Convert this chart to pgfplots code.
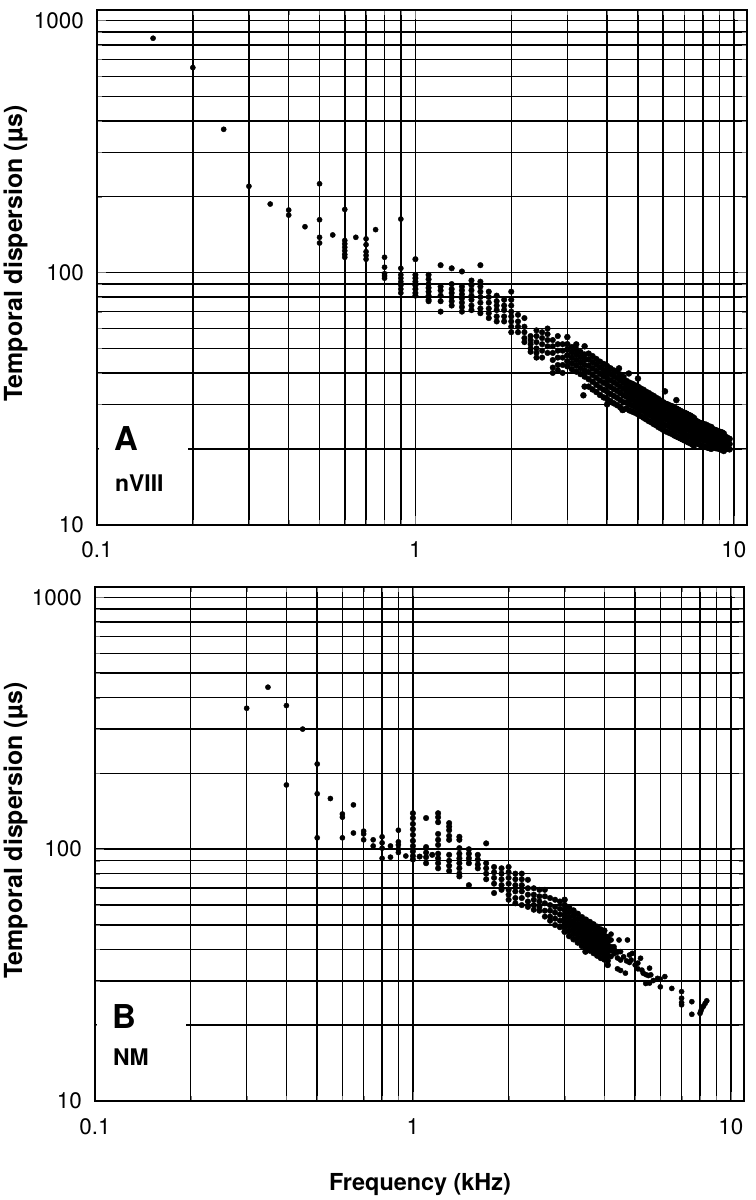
\documentclass[border=0pt]{standalone}
\usepackage{pgfplots}
\pgfplotsset{compat=1.18}
\usepackage{fontspec}
\setmainfont{TeX Gyre Heros}
\begin{document}
\begin{tikzpicture}
\useasboundingbox (0,0) rectangle (756bp,-1200bp);
% ---------------- Panel A ----------------
\begin{axis}[at={(97bp,-524.7bp)}, anchor=south west, width=650bp, height=514.7bp,
    scale only axis, xmode=log, ymode=log,
    xmin=0.1, xmax=11, ymin=10, ymax=1100,
    xtick={0.1,1,10}, xticklabels={0.1,1,10},
    ytick={10,100,1000}, yticklabels={10,100,1000},
    grid=both,
    major grid style={black, line width=1.5bp},
    minor grid style={black, line width=1.5bp},
    tick align=inside,
    major tick length=9bp, minor tick length=5bp,
    axis line style={black, line width=2bp},
    xticklabel style={font=\fontsize{22.5}{25}\selectfont, inner sep=0pt, yshift=-17bp},
    yticklabel style={font=\fontsize{22.5}{25}\selectfont, inner sep=0pt, xshift=-13bp}]
\fill[white] (axis cs:0.1011,10.12) rectangle (axis cs:0.193,26);
\addplot[only marks, mark=*, mark size=2.6bp, black] coordinates {
(0.15,850)(0.2,650)(0.25,370)(0.3,220)(0.35,187)(0.4,177)(0.4,169)(0.45,152)
(0.5,225)(0.5,162)(0.5,138)(0.5,131)(0.55,141)
(0.6,178)(0.6,134)(0.6,130)(0.6,126)(0.6,122)(0.6,118)(0.6,115)
(0.65,138)
(0.7,136)(0.7,129)(0.7,121)(0.7,117)(0.7,113)
(0.75,148)
(0.8,115)(0.8,105)(0.8,99)(0.8,97)(0.8,95)
(0.9,163)(0.9,104)(0.9,98)(0.9,95)(0.9,92)(0.9,89)(0.9,86)(0.9,83)
};
\addplot[only marks, mark=*, mark size=2.8bp, black] coordinates {
(1.0,113)(1.0,98)(1.0,95)(1.0,92)(1.0,89)(1.0,86)(1.0,83)(1.0,81)
(1.1,98)(1.1,94)(1.1,90)(1.1,87)(1.1,84)(1.1,81)(1.1,78)(1.1,77)
(1.2,107)(1.2,88)(1.2,85)(1.2,81)(1.2,77)(1.2,70)
(1.3,104)(1.3,90)(1.3,86)(1.3,83)(1.3,80)(1.3,77)(1.3,74)
(1.4,101)(1.4,88)(1.4,85)(1.4,82)(1.4,79)(1.4,76)(1.4,73)(1.4,70)
(1.5,93)(1.5,89)(1.5,85)(1.5,81)(1.5,78)(1.5,74)(1.5,71)
(1.6,107)(1.6,92)(1.6,88)(1.6,84)(1.6,80)(1.6,76)(1.6,72)(1.6,69)
(1.7,84)(1.7,80)(1.7,76)(1.7,72)(1.7,69)(1.7,66)
(1.8,81)(1.8,77)(1.8,74)(1.8,71)(1.8,67)(1.8,64)
(1.9,78)(1.9,74)(1.9,71)(1.9,67)(1.9,64)
(2.0,84)(2.0,78)(2.0,74)(2.0,70)(2.0,67)(2.0,64)(2.0,61)(2.0,58)
(2.1,68)(2.1,64)(2.1,61)(2.1,58)
(2.2,66)(2.2,61)(2.2,58)(2.2,55)(2.2,53)
(2.3,56)(2.3,54)(2.3,52)(2.3,50)(2.3,48.5)
(2.4,59)(2.4,56)(2.4,53)(2.4,50)(2.4,48)(2.4,46)
(2.5,58)(2.5,55)(2.5,52)(2.5,49)(2.5,46)
(2.6,60)(2.6,57)(2.6,54)(2.6,51)(2.6,48)
(2.7,54)(2.7,51)(2.7,48)(2.7,45)(2.7,42)(2.7,40)
(2.8,56)(2.8,52)(2.8,49)(2.8,46)(2.8,43)(2.8,41)
(2.9,52)(2.9,49)(2.9,46)(2.9,43)(2.9,40)
};
\addplot[only marks, mark=*, mark size=3bp, black] coordinates {
(3.0,42.5)(3.0,44.5)(3.0,47)(3.0,49.5)(3.0,52)(3.0,55.5)
(3.1,41.4)(3.1,43.7)(3.1,46)(3.1,48.3)(3.1,50.6)
(3.2,40.5)(3.2,42.8)(3.2,45)(3.2,47.3)(3.2,49.5)(3.2,51.9)
(3.3,39.6)(3.3,41.8)(3.3,44)(3.3,46.2)(3.3,48.4)
(3.4,38.7)(3.4,40.9)(3.4,43)(3.4,45.2)(3.4,47.3)(3.4,51)(3.4,35.3)(3.37,32.6)
(3.5,35.3)(3.5,37.8)(3.5,40.3)(3.5,42.7)(3.5,45.2)(3.5,47.7)
(3.6,34.4)(3.6,36.9)(3.6,39.3)(3.6,41.7)(3.6,44.1)(3.6,46.6)
(3.7,33.6)(3.7,35.9)(3.7,38.3)(3.7,40.7)(3.7,43.1)(3.7,45.4)
(3.8,32.7)(3.8,35.0)(3.8,37.3)(3.8,39.7)(3.8,42.0)(3.8,44.3)
(3.9,32.0)(3.9,34.3)(3.9,36.6)(3.9,38.8)(3.9,41.1)(3.9,43.4)
(4.0,30)(4.0,31.5)(4.0,33.7)(4.0,35.9)(4.0,38.1)(4.0,40.3)(4.0,42.6)
(4.1,30.9)(4.1,33.0)(4.1,35.2)(4.1,37.4)(4.1,39.6)(4.1,41.7)
(4.2,30.3)(4.2,32.4)(4.2,34.5)(4.2,36.7)(4.2,38.8)(4.2,40.9)
(4.3,29.8)(4.3,31.9)(4.3,34.0)(4.3,36.1)(4.3,38.2)(4.3,40.3)
(4.4,29.2)(4.4,31.2)(4.4,33.3)(4.4,35.3)(4.4,37.4)(4.4,39.4)(4.36,41.7)
(4.5,28.6)(4.5,30.6)(4.5,32.6)(4.5,34.6)(4.5,36.6)(4.5,38.6)(4.47,28.5)
(4.6,28.9)(4.6,30.5)(4.6,32.2)(4.6,33.9)(4.6,35.5)(4.6,37.2)
(4.7,28.4)(4.7,30.1)(4.7,31.7)(4.7,33.4)(4.7,35.0)(4.7,36.6)(4.68,39.8)
(4.8,28.1)(4.8,29.7)(4.8,31.3)(4.8,32.9)(4.8,34.6)(4.8,36.2)
(4.9,27.8)(4.9,29.3)(4.9,30.9)(4.9,32.5)(4.9,34.1)(4.9,35.7)
(5.0,27.4)(5.0,29.0)(5.0,30.6)(5.0,32.1)(5.0,33.7)(5.0,35.3)(5.0,38)
(5.1,27.0)(5.1,28.5)(5.1,30.1)(5.1,31.6)(5.1,33.2)(5.1,34.7)
(5.2,26.6)(5.2,28.2)(5.2,29.7)(5.2,31.2)(5.2,32.7)(5.2,34.3)
(5.3,26.2)(5.3,27.7)(5.3,29.2)(5.3,30.7)(5.3,32.2)(5.3,33.7)
(5.4,25.8)(5.4,27.3)(5.4,28.8)(5.4,30.3)(5.4,31.8)(5.4,33.3)
(5.5,25.5)(5.5,27.0)(5.5,28.4)(5.5,29.9)(5.5,31.4)(5.5,32.8)
(5.6,25.1)(5.6,26.6)(5.6,28.0)(5.6,29.5)(5.6,30.9)(5.6,32.4)
(5.7,24.8)(5.7,26.2)(5.7,27.6)(5.7,29.1)(5.7,30.5)(5.7,31.9)
(5.8,24.4)(5.8,25.9)(5.8,27.3)(5.8,28.7)(5.8,30.1)(5.8,31.5)
(5.9,24.1)(5.9,25.5)(5.9,26.9)(5.9,28.3)(5.9,29.6)(5.9,31.0)
(6.0,23.8)(6.0,25.1)(6.0,26.5)(6.0,27.8)(6.0,29.2)(6.0,30.6)
(6.1,23.5)(6.1,24.8)(6.1,26.2)(6.1,27.5)(6.1,28.9)(6.1,30.2)(6.08,33.8)
(6.2,23.3)(6.2,24.7)(6.2,26.0)(6.2,27.3)(6.2,28.7)(6.2,30.0)
(6.3,23.1)(6.3,24.4)(6.3,25.7)(6.3,27.0)(6.3,28.4)(6.3,29.7)
(6.4,22.9)(6.4,24.2)(6.4,25.5)(6.4,26.8)(6.4,28.1)(6.4,29.5)
(6.5,22.6)(6.5,23.9)(6.5,25.2)(6.5,26.5)(6.5,27.8)(6.5,29.1)
(6.6,22.4)(6.6,23.7)(6.6,25.0)(6.6,26.3)(6.6,27.6)(6.6,28.9)(6.6,31.2)
(6.7,22.2)(6.7,23.5)(6.7,24.7)(6.7,26.0)(6.7,27.3)(6.7,28.6)
(6.8,22.0)(6.8,23.3)(6.8,24.5)(6.8,25.8)(6.8,27.1)(6.8,28.3)
(6.9,21.8)(6.9,23.0)(6.9,24.3)(6.9,25.5)(6.9,26.8)(6.9,28.0)
(7.0,21.6)(7.0,22.8)(7.0,24.1)(7.0,25.3)(7.0,26.5)(7.0,27.8)
(7.1,21.4)(7.1,22.6)(7.1,23.9)(7.1,25.1)(7.1,26.3)(7.1,27.6)
(7.2,21.2)(7.2,22.4)(7.2,23.7)(7.2,24.9)(7.2,26.1)(7.2,27.3)
(7.3,21.1)(7.3,22.3)(7.3,23.5)(7.3,24.7)(7.3,25.9)(7.3,27.1)
(7.4,20.8)(7.4,22.0)(7.4,23.2)(7.4,24.4)(7.4,25.6)(7.4,26.8)
(7.5,20.6)(7.5,21.8)(7.5,23.0)(7.5,24.2)(7.5,25.4)(7.5,26.5)
(7.6,21.2)(7.6,22.3)(7.6,23.5)(7.6,24.7)(7.6,25.9)
(7.7,21.0)(7.7,22.1)(7.7,23.3)(7.7,24.5)(7.7,25.6)
(7.8,20.8)(7.8,21.9)(7.8,23.1)(7.8,24.3)(7.8,25.4)
(7.9,20.6)(7.9,21.8)(7.9,22.9)(7.9,24.0)(7.9,25.2)
(8.0,20.5)(8.0,21.7)(8.0,22.8)(8.0,23.9)(8.0,25.1)
(8.1,20.4)(8.1,21.6)(8.1,22.7)(8.1,23.8)(8.1,25.0)
(8.2,20.3)(8.2,21.5)(8.2,22.6)(8.2,23.7)(8.2,24.9)
(8.3,20.2)(8.3,21.3)(8.3,22.4)(8.3,23.5)(8.3,24.6)
(8.4,20.1)(8.4,21.2)(8.4,22.3)(8.4,23.4)(8.4,24.5)
(8.5,20.0)(8.5,21.1)(8.5,22.2)(8.5,23.3)(8.5,24.4)
(8.6,20.3)(8.6,21.2)(8.6,22.1)(8.6,23.0)(8.6,23.9)
(8.7,20.2)(8.7,21.1)(8.7,22.0)(8.7,22.9)(8.7,23.8)
(8.8,20.1)(8.8,21.0)(8.8,21.9)(8.8,22.8)(8.8,23.7)
(8.9,20.1)(8.9,20.9)(8.9,21.8)(8.9,22.7)(8.9,23.5)
(9.0,20.0)(9.0,20.8)(9.0,21.7)(9.0,22.6)(9.0,23.4)
(9.1,19.9)(9.1,20.7)(9.1,21.6)(9.1,22.5)(9.1,23.3)
(9.2,19.8)(9.2,20.6)(9.2,21.5)(9.2,22.4)(9.2,23.2)
(9.3,19.6)(9.3,20.4)(9.3,21.3)(9.3,22.2)(9.3,23.0)
(9.4,20.1)(9.4,21.2)(9.4,22.3)
(9.5,20.0)(9.5,21.1)(9.5,22.2)
(9.6,20.0)(9.6,21.0)(9.6,22.0)
(9.7,19.9)(9.7,20.9)(9.7,21.9)
};
\end{axis}
% ---------------- Panel B ----------------
\begin{axis}[at={(95bp,-1101bp)}, anchor=south west, width=649bp, height=514bp,
    scale only axis, xmode=log, ymode=log,
    xmin=0.1, xmax=11, ymin=10, ymax=1100,
    xtick={0.1,1,10}, xticklabels={0.1,1,10},
    ytick={10,100,1000}, yticklabels={10,100,1000},
    grid=both,
    major grid style={black, line width=1.5bp},
    minor grid style={black, line width=1.5bp},
    tick align=inside,
    major tick length=9bp, minor tick length=5bp,
    axis line style={black, line width=2bp},
    xticklabel style={font=\fontsize{22.5}{25}\selectfont, inner sep=0pt, yshift=-17bp},
    yticklabel style={font=\fontsize{22.5}{25}\selectfont, inner sep=0pt, xshift=-13bp}]
\fill[white] (axis cs:0.1011,10.12) rectangle (axis cs:0.193,26);
\addplot[only marks, mark=*, mark size=2.6bp, black] coordinates {
(0.3,363)(0.35,440)(0.4,372)(0.4,180)(0.45,300)
(0.5,218)(0.5,166)(0.5,111)(0.55,159)
(0.6,138)(0.6,134)(0.6,111)
(0.65,150)(0.65,116)
(0.7,118)(0.7,115)(0.7,109)
(0.75,109)(0.75,103)
(0.8,112)(0.8,106)(0.8,101)(0.8,92)
(0.85,103)(0.85,93)
(0.9,119)(0.9,107)(0.9,104)(0.9,100)(0.9,97)
(0.95,94)
(4.2,37.5)(4.2,39.5)(4.2,41)(4.2,43.6)(4.2,46)
(4.3,38.5)(4.3,40)(4.29,41)
(4.4,37)(4.4,39)(4.4,33.5)
(4.5,36.3)(4.5,39.2)(4.45,43.6)(4.5,33)
(4.6,37.4)(4.66,32.2)
(4.73,43.6)(4.7,36)
(4.8,35.5)(4.8,38)
(4.9,38.6)(4.86,36.3)
(5.0,34.7)(5.1,35.3)(5.1,33.5)
(5.2,36.9)(5.25,33.1)(5.3,32.2)
(5.4,29.3)(5.4,31.8)
(5.55,33.7)(5.55,29.4)(5.5,31.5)
(5.6,31.7)(5.7,30.1)
(5.88,30.7)(6.0,28.4)(6.0,30.5)(6.2,31.2)(6.52,28)
(7.0,27.2)(7.0,25.6)(7.0,24.6)(7.0,24.1)
(7.54,24.8)(7.54,22.1)
(8.0,22.3)(8.05,22.8)(8.1,23.3)(8.2,23.8)(8.3,24.4)(8.4,25.0)
};
\addplot[only marks, mark=*, mark size=2.8bp, black] coordinates {
(1.0,139)(1.0,133)(1.0,126)(1.0,120)(1.0,114)(1.0,108)(1.0,103)(1.0,98)(1.0,94)(1.0,91)
(1.05,93.5)
(1.1,133)(1.1,102)(1.1,97)(1.1,93)(1.1,88)
(1.15,95)
(1.2,139)(1.2,134)(1.2,128)(1.2,115)(1.2,109)(1.2,104)(1.2,96)(1.2,92)(1.2,88)(1.2,84)
(1.3,127)(1.3,123)(1.3,119)(1.3,113)(1.3,109)(1.3,95)(1.3,90)(1.3,86)(1.3,82)
(1.4,112)(1.4,109)(1.4,101)(1.4,96)(1.4,92)(1.4,88)(1.4,84)(1.4,80)(1.4,78)
(1.5,100)(1.5,96)(1.5,92)(1.5,88)(1.5,72)
(1.6,95)(1.6,91)(1.6,87)(1.6,84)
(1.7,105.5)(1.7,88)(1.7,84)(1.7,80)(1.7,76)
(1.8,85)(1.8,81)(1.8,77)(1.8,73)(1.8,67)
(1.9,84)(1.9,80)(1.9,76)(1.9,72)(1.9,69)
(2.0,85)(2.0,81)(2.0,77)(2.0,73)(2.0,69)(2.0,66)(2.0,63)
(2.1,80)(2.1,76)(2.1,72)(2.1,68)(2.1,64)(2.1,61)
(2.2,80)(2.2,76)(2.2,72)(2.2,68)(2.2,64)(2.2,60)
(2.3,75.6)(2.3,70)(2.3,66)(2.3,62)(2.3,59)
(2.4,70)(2.4,66)(2.4,63)(2.4,60)(2.4,57.5)
(2.5,69)(2.5,65)(2.5,62)(2.5,59)(2.5,57)
(2.6,69)(2.6,65)(2.6,61)(2.6,57)(2.6,54)
(2.7,64)(2.7,60)(2.7,57)(2.7,54)(2.7,52)
(2.8,63)(2.8,59)(2.8,56)(2.8,53)(2.8,50)
(2.9,62)(2.9,58)(2.9,55)(2.9,52)(2.9,49)
};
\addplot[only marks, mark=*, mark size=3bp, black] coordinates {
(3.0,47)(3.0,49)(3.0,51)(3.0,53)(3.0,55)(3.0,57.5)(3.0,60)(3.0,63)
(3.1,45.2)(3.1,47.3)(3.1,49.4)(3.1,51.5)(3.1,53.6)(3.1,56.2)(3.1,58.8)
(3.2,43.9)(3.2,46.0)(3.2,48.0)(3.2,50.0)(3.2,52.0)(3.2,54.5)(3.2,57.1)
(3.3,42.6)(3.3,44.6)(3.3,46.6)(3.3,48.5)(3.3,50.5)(3.3,52.9)(3.3,55.4)
(3.4,41.3)(3.4,43.2)(3.4,45.1)(3.4,47.0)(3.4,48.9)(3.4,51.3)(3.4,53.7)
(3.5,40.5)(3.5,42.3)(3.5,44.2)(3.5,46.0)(3.5,47.9)(3.5,50.2)(3.5,52.5)(3.49,39.2)
(3.6,39.6)(3.6,41.4)(3.6,43.2)(3.6,45.0)(3.6,46.9)(3.6,49.1)(3.6,51.4)
(3.7,38.7)(3.7,40.5)(3.7,42.3)(3.7,44.1)(3.7,45.8)(3.7,48.1)(3.7,50.3)
(3.8,37.8)(3.8,39.6)(3.8,41.3)(3.8,43.1)(3.8,44.8)(3.8,47.0)(3.8,49.2)
(3.9,37.0)(3.9,38.7)(3.9,40.4)(3.9,42.1)(3.9,43.8)(3.9,45.9)(3.9,48.0)
(4.0,36.5)(4.0,38.2)(4.0,39.9)(4.0,41.6)(4.0,43.3)(4.0,45.4)(4.0,47.5)
(4.1,36.1)(4.1,37.8)(4.1,39.4)(4.1,41.1)(4.1,42.7)(4.1,44.8)(4.1,34.7)
};
\end{axis}
% labels
\node[rotate=90, anchor=base, font=\bfseries\fontsize{25}{28}\selectfont] at (22bp,-253.5bp) {Temporal dispersion (µs)};
\node[rotate=90, anchor=base, font=\bfseries\fontsize{25}{28}\selectfont] at (22bp,-830.5bp) {Temporal dispersion (µs)};
\node[anchor=base, font=\bfseries\fontsize{23.5}{26}\selectfont] at (420bp,-1190bp) {Frequency (kHz)};
\node[anchor=base west, inner sep=0pt, font=\bfseries\fontsize{33}{36}\selectfont] at (114bp,-450bp) {A};
\node[anchor=base west, inner sep=0pt, font=\bfseries\fontsize{23}{26}\selectfont] at (115bp,-491bp) {nVIII};
\node[anchor=base west, inner sep=0pt, font=\bfseries\fontsize{33}{36}\selectfont] at (112bp,-1028bp) {B};
\node[anchor=base west, inner sep=0pt, font=\bfseries\fontsize{23}{26}\selectfont] at (113bp,-1065bp) {NM};
\end{tikzpicture}
\end{document}
